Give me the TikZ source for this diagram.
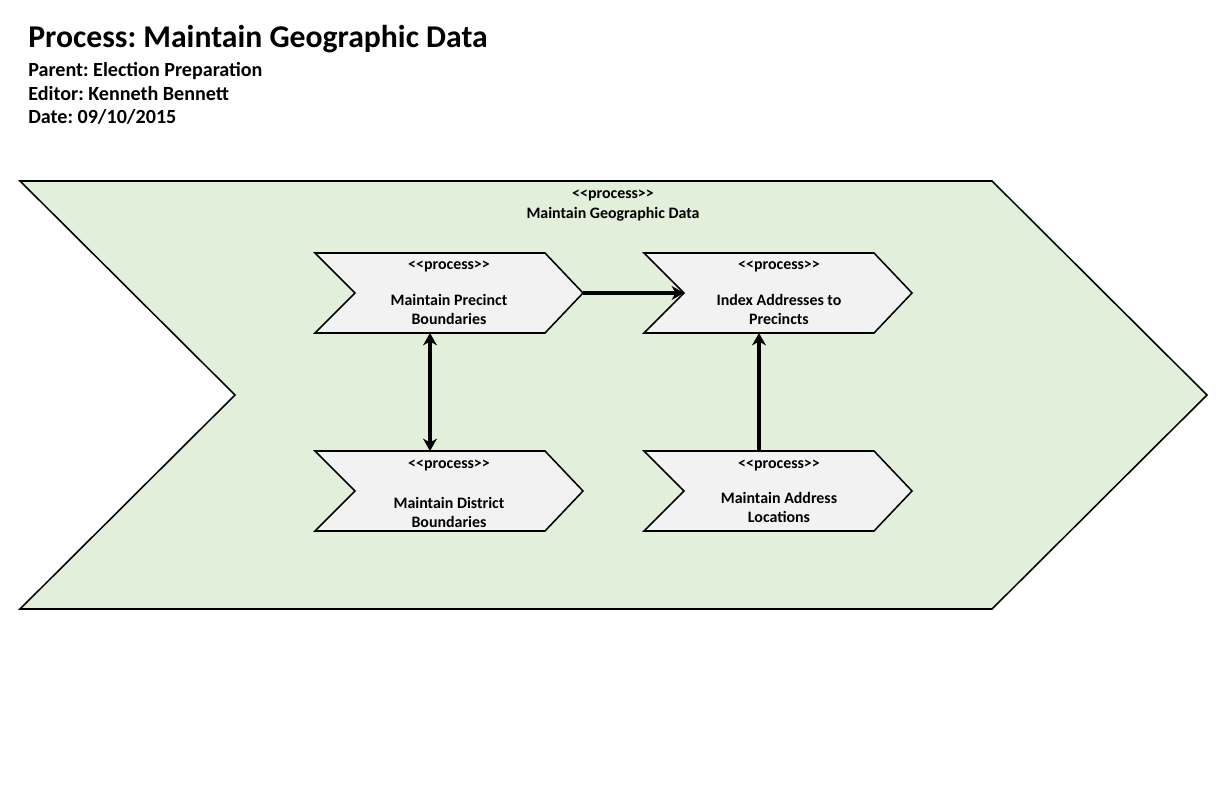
\documentclass[tikz,border=0pt]{standalone}
\usepackage{fontspec}
\setmainfont{Carlito}[Ligatures=TeXOff]
\usetikzlibrary{arrows.meta}
\definecolor{processgreen}{HTML}{E2EFDA}
\definecolor{stepgrey}{HTML}{F2F2F2}

\tikzset{
  chevron/.style={draw=black, line width=1pt, line join=miter},
  lbl/.style={font=\bfseries\fontsize{10.3}{12.3}\selectfont, align=center, inner sep=0pt},
  hdr/.style={anchor=base west, inner sep=0pt, font=\bfseries\fontsize{13}{15}\selectfont},
  flow/.style={line width=2pt, -{Stealth[length=8pt,width=9pt,inset=2.5pt]}},
  dflow/.style={line width=2pt, {Stealth[length=8pt,width=9pt,inset=2.5pt]}-{Stealth[length=8pt,width=9pt,inset=2.5pt]}},
}

% step chevron: name, left x, top y
\newcommand{\stepchevron}[3]{%
  \draw[chevron, fill=stepgrey] (#2,#3) -- ++(230,0) -- ++(38,40) -- ++(-38,40)
    -- ++(-230,0) -- ++(40,-40) -- cycle;
  \coordinate (#1-tip) at ({#2+268},{#3+40});
  \coordinate (#1-notch) at ({#2+40},{#3+40});
  \coordinate (#1-n) at ({#2+115},{#3});
  \coordinate (#1-s) at ({#2+115},{#3+80});
}

\frenchspacing

\begin{document}
\begin{tikzpicture}[x=0.6471pt, y=-0.6471pt]
  \useasboundingbox (0,0) rectangle (1224,792);

  % Header
  \node[hdr, font=\bfseries\fontsize{20.5}{24}\selectfont] (title) at (28,48) {Process: Maintain Geographic Data};
  \node[hdr] (parent) at (28,76.5) {Parent: Election Preparation};
  \node[hdr] (editor) at (28,100.5) {Editor: Kenneth Bennett};
  \node[hdr] (date) at (28,124) {Date: 09/10/2015};

  % Outer process
  \draw[chevron, fill=processgreen] (20,181) -- (992,181) -- (1207,395) -- (992,609)
    -- (20,609) -- (235,395) -- cycle;
  \node[lbl] (outerstereo) at (613,195) {<<process>>};
  \node[lbl] (outername) at (613,214) {Maintain Geographic Data};

  % Steps
  \stepchevron{precinct}{315}{253}
  \stepchevron{index}{644}{253}
  \stepchevron{district}{315}{451}
  \stepchevron{address}{644}{451}

  \node[lbl] (precinctstereo) at (449,266) {<<process>>};
  \node[lbl] (precinctname) at (449,309.5) {Maintain Precinct\\Boundaries};
  \node[lbl] (indexstereo) at (779,266) {<<process>>};
  \node[lbl] (indexname) at (779,309.5) {Index Addresses to\\Precincts};
  \node[lbl] (districtstereo) at (449,465) {<<process>>};
  \node[lbl] (districtname) at (449,512.5) {Maintain District\\Boundaries};
  \node[lbl] (addressstereo) at (779,465) {<<process>>};
  \node[lbl] (addressname) at (779,507.5) {Maintain Address\\Locations};

  % Flows
  \draw[flow] (precinct-tip) -- (index-notch);
  \draw[dflow] (precinct-s) -- (district-n);
  \draw[flow] (address-n) -- (index-s);
\end{tikzpicture}
\end{document}
